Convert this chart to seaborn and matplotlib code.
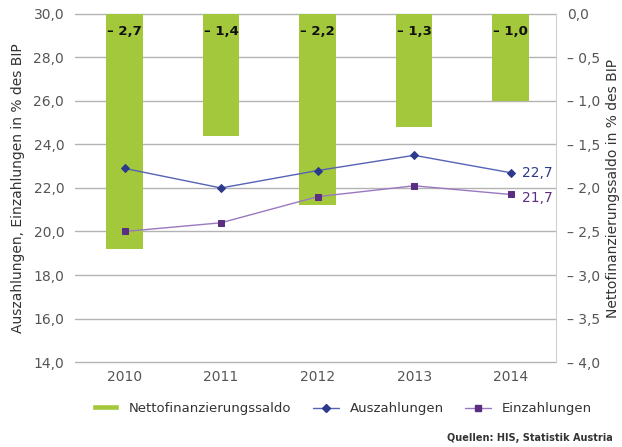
import numpy as np
import pandas as pd
import matplotlib
matplotlib.use("Agg")
import matplotlib.pyplot as plt
import seaborn as sns
from matplotlib.lines import Line2D
from matplotlib.patches import Patch

# Daten
jahre = ["2010", "2011", "2012", "2013", "2014"]
saldo = [-2.7, -1.4, -2.2, -1.3, -1.0]
auszahlungen = [22.9, 22.0, 22.8, 23.5, 22.7]
einzahlungen = [20.0, 20.4, 21.6, 22.1, 21.7]

gruen = "#a3c83c"
blau_linie = "#5563b5"
blau_punkt = "#2c3a8c"
lila_linie = "#9a78c0"
lila_punkt = "#5b2e82"
grau = "#555555"

sns.set_style("white")
plt.rcParams['font.family'] = ['DejaVu Sans']

df_saldo = pd.DataFrame({"Jahr": jahre, "Saldo": saldo})
df_aus = pd.DataFrame({"Jahr": jahre, "Wert": auszahlungen})
df_ein = pd.DataFrame({"Jahr": jahre, "Wert": einzahlungen})

fig, ax = plt.subplots(figsize=(6.22, 4.47), dpi=100)
fig.subplots_adjust(left=0.121, right=0.894, top=0.969, bottom=0.19)
ax2 = ax.twinx()

# Balken auf rechter Achse
sns.barplot(data=df_saldo, x="Jahr", y="Saldo", ax=ax2, color=gruen,
            width=0.38, saturation=1, edgecolor="none")
ax2.set_ylim(-4, 0)
ax2.set_axisbelow(True)
ax2.yaxis.grid(True, color="#b3b3b3", linewidth=1, clip_on=False)
rticks = np.arange(0, -4.01, -0.5)
ax2.set_yticks(rticks)
ax2.set_yticklabels(["0,0" if t == 0 else "– " + f"{abs(t):.1f}".replace(".", ",") for t in rticks])
ax2.set_ylabel("Nettofinanzierungssaldo in % des BIP", fontsize=10, color="#333333", labelpad=4)
for i, v in enumerate(saldo):
    ax2.text(i, -0.2, "– " + f"{abs(v):.1f}".replace(".", ","), ha="center", va="center",
             fontsize=9.5, fontweight="bold", color="#111111")

# Linien auf linker Achse
sns.pointplot(data=df_aus, x="Jahr", y="Wert", ax=ax, color=blau_linie, markers="D",
              markersize=4, linewidth=1, markeredgecolor=blau_punkt, markerfacecolor=blau_punkt)
sns.pointplot(data=df_ein, x="Jahr", y="Wert", ax=ax, color=lila_linie, markers="s",
              markersize=4, linewidth=1, markeredgecolor=lila_punkt, markerfacecolor=lila_punkt)
ax.text(4.12, auszahlungen[-1], f"{auszahlungen[-1]:.1f}".replace(".", ","), color=blau_punkt,
        fontsize=10, va="center")
ax.text(4.12, einzahlungen[-1] - 0.15, f"{einzahlungen[-1]:.1f}".replace(".", ","), color=lila_punkt,
        fontsize=10, va="center")

ax.set_zorder(ax2.get_zorder() + 1)
ax.patch.set_visible(False)
ax.set_ylim(14, 30)
lticks = np.arange(14, 30.1, 2)
ax.set_yticks(lticks)
ax.set_yticklabels([f"{t:.1f}".replace(".", ",") for t in lticks])
ax.set_xlim(-0.51, 4.47)
ax.set_xlabel("")
ax.set_ylabel("Auszahlungen, Einzahlungen in % des BIP", fontsize=10, color="#333333", labelpad=6)
ax2.set_xlabel("")

for a in (ax, ax2):
    for s in a.spines.values():
        s.set_visible(False)
    a.tick_params(axis="both", length=0, labelsize=10, labelcolor=grau, pad=8)
ax2.spines["right"].set_visible(True)
ax2.spines["right"].set_color("#d0d0d0")
ax.tick_params(axis="x", pad=6)

handles = [
    Patch(facecolor=gruen, label="Nettofinanzierungssaldo"),
    Line2D([0], [0], color=blau_linie, marker="D", markersize=4, markerfacecolor=blau_punkt,
           markeredgecolor=blau_punkt, linewidth=1, label="Auszahlungen"),
    Line2D([0], [0], color=lila_linie, marker="s", markersize=4, markerfacecolor=lila_punkt,
           markeredgecolor=lila_punkt, linewidth=1, label="Einzahlungen"),
]
fig.legend(handles=handles, loc="center", bbox_to_anchor=(0.55, 0.087), ncol=3, frameon=False,
           fontsize=9.5, handlelength=2.0, handleheight=0.4, columnspacing=1.6, labelcolor="#333333")
fig.text(0.985, 0.02, "Quellen: HIS, Statistik Austria", ha="right", va="center",
         fontsize=7, fontweight="bold", color="#333333")

fig.savefig("out.png", dpi=100)
